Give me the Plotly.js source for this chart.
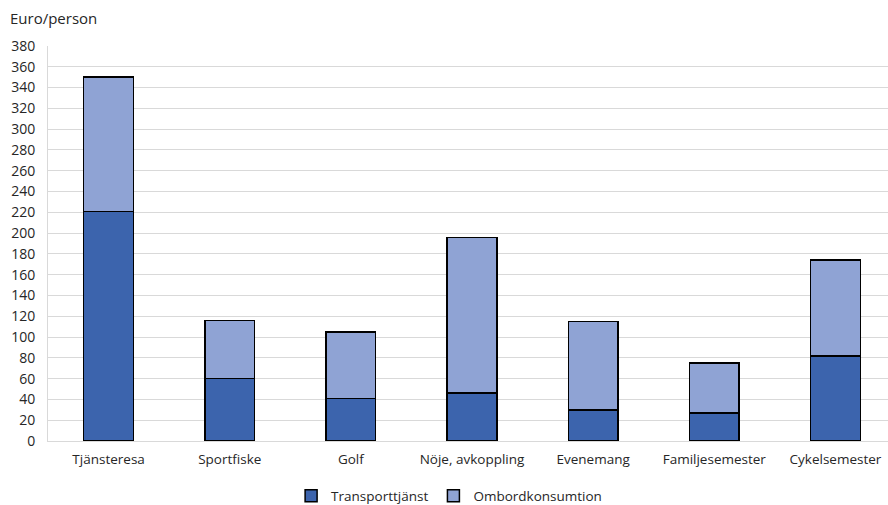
<!DOCTYPE html>
<html>
<head>
<meta charset="utf-8">
<script src="https://cdn.plot.ly/plotly-3.0.1.min.js"></script>
<style>
  html, body { margin: 0; padding: 0; background: #fff; overflow: hidden; }
  #chart { width: 896px; height: 505px; }
</style>
</head>
<body>
<div id="chart"></div>
<script>
// Spending per person by trip purpose (euro)
const categories = ["Tjänsteresa", "Sportfiske", "Golf", "Nöje, avkoppling", "Evenemang", "Familjesemester", "Cykelsemester"];
const transport = [221, 60, 41, 46, 30, 27, 82];
const onboard = [129, 56, 64, 150, 85, 48, 92];
const yTicks = [0, 20, 40, 60, 80, 100, 120, 140, 160, 180, 200, 220, 240, 260, 280, 300, 320, 340, 360, 380];

const font = { family: "Open Sans, Noto Sans, sans-serif", size: 13.5, color: "#262626" };
const yFont = { family: font.family, size: 14, color: "#262626" };
const outline = { color: "#000", width: 1.5 };

const traces = [
  {
    type: "bar", name: "Transporttjänst", x: categories, y: transport,
    marker: { color: "#3C64AD", line: outline }
  },
  {
    type: "bar", name: "Ombordkonsumtion", x: categories, y: onboard,
    marker: { color: "#8FA3D4", line: outline }
  }
];

const layout = {
  width: 896, height: 505,
  barmode: "stack", bargap: 0.59,
  margin: { l: 48, r: 0, t: 46, b: 64 },
  paper_bgcolor: "#fff", plot_bgcolor: "#fff",
  font: font,
  title: {
    text: "Euro/person", x: 0, xref: "container", xanchor: "left",
    y: 1, yref: "container", yanchor: "top", pad: { t: 13, l: 10 },
    font: { family: font.family, size: 15, color: "#262626" }
  },
  xaxis: {
    type: "category", showgrid: false, showline: true, linecolor: "#d9d9d9", linewidth: 1,
    ticks: "", tickfont: font, ticklabelstandoff: 6
  },
  yaxis: {
    range: [0, 380], tickmode: "array", tickvals: yTicks, ticktext: yTicks.map(String),
    showgrid: true, gridcolor: "#d9d9d9", gridwidth: 1,
    showline: true, linecolor: "#d9d9d9", zeroline: false,
    ticks: "", tickfont: yFont, ticklabelstandoff: 9
  },
  showlegend: true,
  legend: {
    orientation: "h", x: 0.473, xanchor: "center",
    yref: "container", y: 0.018, yanchor: "middle",
    font: font, traceorder: "normal", itemwidth: 30
  }
};

Plotly.newPlot("chart", traces, layout, { displayModeBar: false, staticPlot: true });
</script>
</body>
</html>
